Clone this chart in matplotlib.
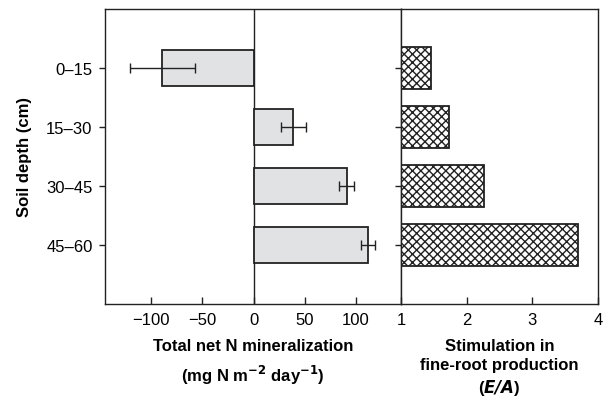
import matplotlib
matplotlib.use("Agg")
import matplotlib.pyplot as plt
import numpy as np

depths = ["0\u201315", "15\u201330", "30\u201345", "45\u201360"]
n_min = [-89, 39, 91, 112]
n_err = [32, 12, 7.5, 7]
stim = [1.46, 1.73, 2.27, 3.69]
left_ticks = [-100, -50, 0, 50, 100]
right_ticks = [1, 2, 3, 4]

plt.rcParams['font.family'] = ['Liberation Sans', 'DejaVu Sans']
plt.rcParams['hatch.linewidth'] = 1.0

fig = plt.figure(figsize=(6.03, 4.02), dpi=100)
ax1 = fig.add_axes([105/603, 1-305/402, 296/603, 295/402])
ax2 = fig.add_axes([401/603, 1-305/402, 197/603, 295/402])

ypos = np.arange(len(depths))
ec = '#222222'
fs = 12

ax1.barh(ypos, n_min, height=0.6, color='#e1e2e4', edgecolor=ec, linewidth=1.3, zorder=2)
ax1.errorbar(n_min, ypos, xerr=n_err, fmt='none', ecolor=ec, elinewidth=1.0,
             capsize=3.5, capthick=1.0, zorder=3)
ax1.axvline(0, color=ec, linewidth=1.0, zorder=1)
ax1.set_xlim(-145, 144)
ax1.set_ylim(4.0, -1.0)
ax1.set_yticks(ypos)
ax1.set_yticklabels(depths, fontsize=fs)
ax1.set_xticks(left_ticks)
ax1.set_xticklabels([str(t).replace('-', '\u2212') for t in left_ticks], fontsize=fs)
ax1.tick_params(axis='x', direction='in', length=5, width=1, color=ec, pad=6)
ax1.tick_params(axis='y', direction='out', length=4, width=1, color=ec, pad=5)
ax1.set_ylabel("Soil depth (cm)", fontsize=fs, fontweight='bold', labelpad=10)
ax1.set_xlabel("Total net N mineralization\n(mg N m$^{\\mathbf{-2}}$ day$^{\\mathbf{-1}}$)",
               fontsize=fs, fontweight='bold', linespacing=1.55, labelpad=8)
for s in ax1.spines.values():
    s.set_color(ec)
    s.set_linewidth(1.0)

ax2.barh(ypos, [v - 1 for v in stim], left=1, height=0.72, color='white',
         edgecolor=ec, hatch='xxxx', linewidth=1.3, zorder=2)
ax2.set_xlim(1, 4)
ax2.set_ylim(4.0, -1.0)
ax2.set_yticks(ypos)
ax2.set_yticklabels([])
ax2.set_xticks(right_ticks)
ax2.set_xticklabels([str(t) for t in right_ticks], fontsize=fs)
ax2.tick_params(axis='x', direction='in', length=5, width=1, color=ec, pad=6)
ax2.tick_params(axis='y', direction='out', length=4, width=1, color=ec)
ax2.set_xlabel("Stimulation in\nfine-root production\n(" + "$\\mathbfit{E/A}$" + ")",
               fontsize=fs, fontweight='bold', linespacing=1.3, labelpad=8)
for s in ax2.spines.values():
    s.set_color(ec)
    s.set_linewidth(1.0)

fig.savefig("out.png", dpi=100)
